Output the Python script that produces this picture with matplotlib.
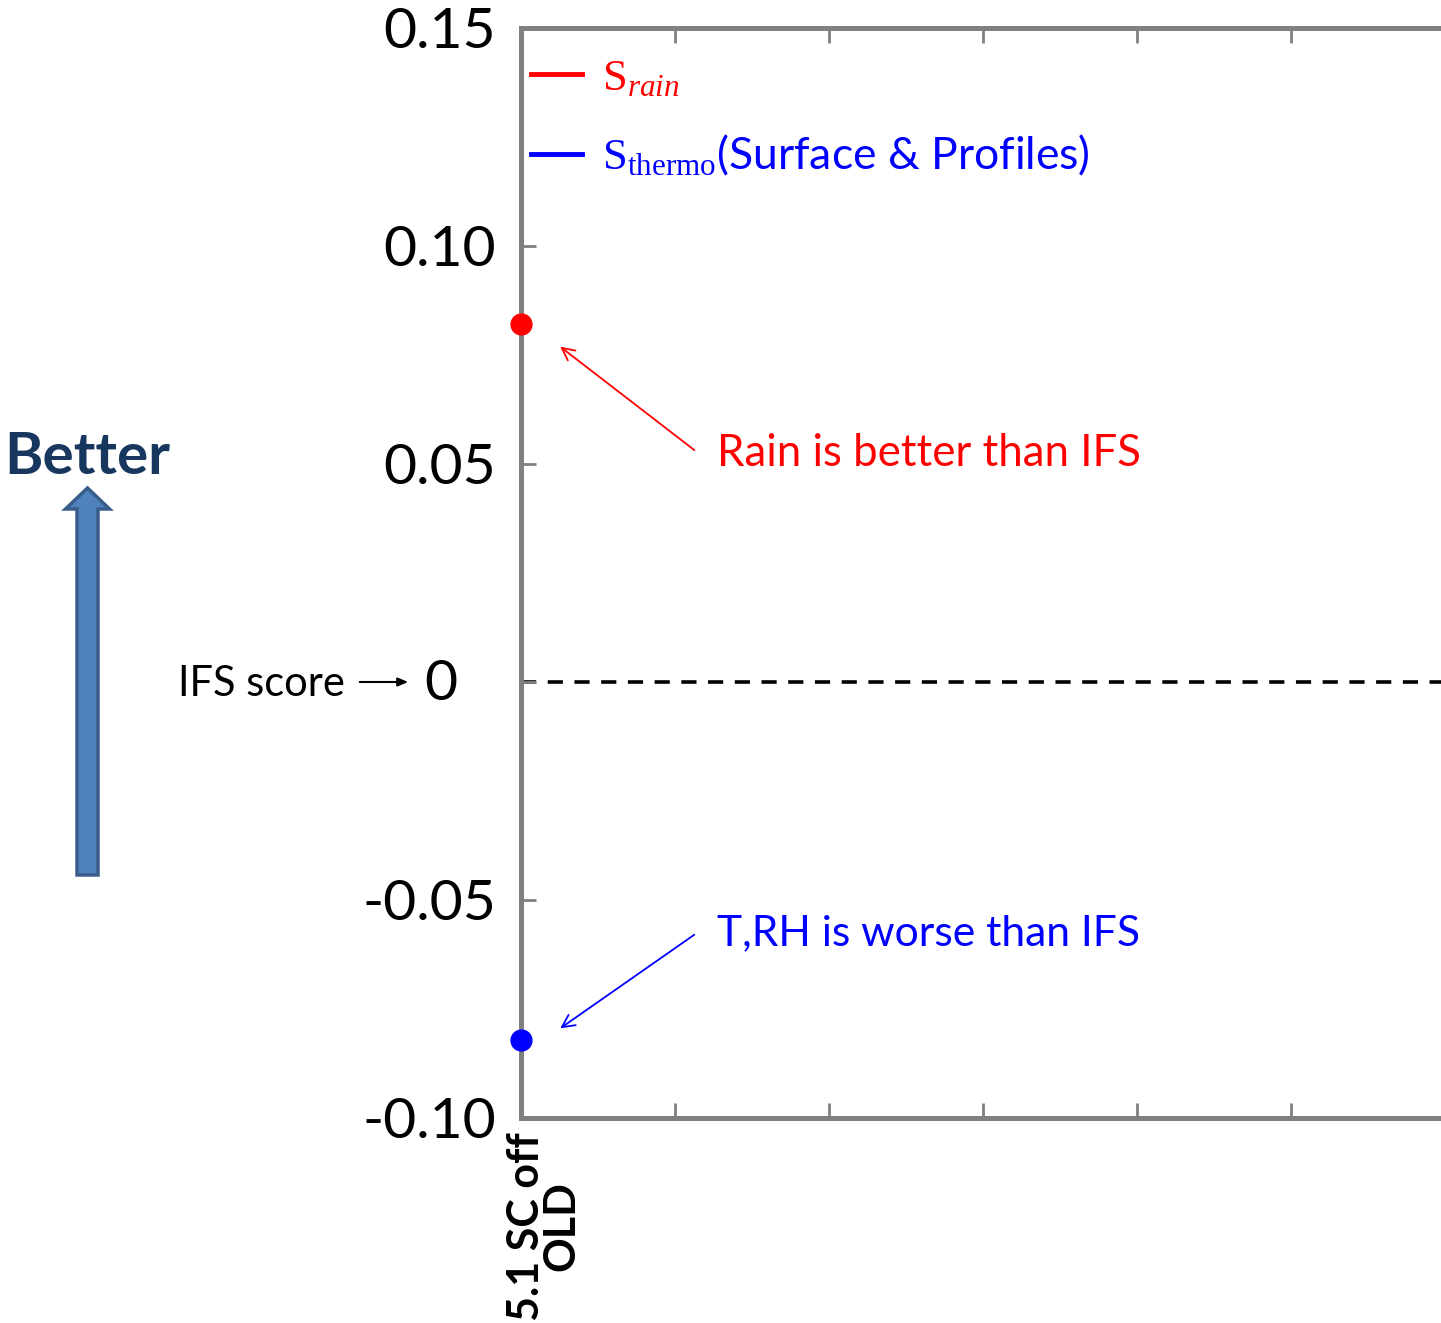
import matplotlib
matplotlib.use("Agg")
import matplotlib.pyplot as plt
from matplotlib.patches import FancyArrow
from matplotlib.lines import Line2D
from matplotlib.transforms import ScaledTranslation

# scores relative to IFS
categories = ["5.1 SC off\nOLD"]
s_rain = [0.082]
s_thermo = [-0.082]
n_slots = 7  # axis keeps room for more experiments

yticks = [-0.10, -0.05, 0.0, 0.05, 0.10, 0.15]
ytick_labels = ["-0.10", "-0.05", "", "0.05", "0.10", "0.15"]

plt.rcParams["font.family"] = ["Lato", "DejaVu Sans"]
plt.rcParams["mathtext.fontset"] = "custom"
plt.rcParams["mathtext.rm"] = "Liberation Serif"
plt.rcParams["mathtext.it"] = "Liberation Serif:italic"

W, H = 1441, 1323
fig = plt.figure(figsize=(W / 100, H / 100), dpi=100)
ax = fig.add_axes([521 / W, (H - 1118) / H, 924 / W, 1090 / H])

xs = list(range(1, len(categories) + 1))
ax.plot(xs, s_rain, "o", color="red", ms=15, clip_on=False, zorder=5,
        label=r"$\mathrm{S}_{\mathit{rain}}$")
ax.plot(xs, s_thermo, "o", color="blue", ms=15, clip_on=False, zorder=5,
        label=r"$\mathrm{S}_{\mathrm{thermo}}$(Surface & Profiles)")

ax.axhline(0, color="black", lw=2.6, ls=(0, (4.2, 3.2)), zorder=1)

for side in ["left", "bottom", "top", "right"]:
    ax.spines[side].set_color("#808080")
    ax.spines[side].set_linewidth(3.6)
ax.tick_params(direction="in", length=11, width=2, color="#808080",
               top=True, right=False, pad=18)
ax.tick_params(axis="x", pad=10)

ax.set_xlim(1, n_slots)
ax.set_ylim(-0.10, 0.15)
ax.set_yticks(yticks)
ax.set_yticklabels(ytick_labels, fontsize=41)
ax.set_xticks(range(1, n_slots + 1))
ax.set_xticklabels(categories + [""] * (n_slots - len(categories)),
                   rotation=90, fontsize=31, fontweight="bold",
                   ha="left", va="top", multialignment="center",
                   linespacing=0.85)
for lab in ax.get_xticklabels():
    lab.set_transform(lab.get_transform() + ScaledTranslation(-0.15, 0, fig.dpi_scale_trans))

# legend with plain line handles
handles = [Line2D([], [], color="red", lw=3.5),
           Line2D([], [], color="blue", lw=3.5)]
leg = ax.legend(handles, [h.get_label() for h in ax.get_lines()[:2]],
                loc="upper left", bbox_to_anchor=(-0.018, 0.998), frameon=False,
                fontsize=32, handlelength=1.15, handletextpad=0.45,
                labelspacing=0.8, borderaxespad=0.2)
for txt, c in zip(leg.get_texts(), ["red", "blue"]):
    txt.set_color(c)

# call-outs
ax.annotate("", xy=(1.24, 0.0773), xytext=(2.14, 0.0528),
            arrowprops=dict(arrowstyle="->,head_length=0.9,head_width=0.45",
                            color="red", lw=1.3))
ax.text(2.27, 0.0525, "Rain is better than IFS", color="red", fontsize=31.5,
        va="center", ha="left")
ax.annotate("", xy=(1.24, -0.0798), xytext=(2.14, -0.0576),
            arrowprops=dict(arrowstyle="->,head_length=0.9,head_width=0.45",
                            color="blue", lw=1.3))
ax.text(2.27, -0.0576, "T,RH is worse than IFS", color="blue", fontsize=30.7,
        va="center", ha="left")

# left-hand side decorations
fig.text(87.5 / W, (H - 457) / H, "Better", color="#17375E", fontsize=42,
         fontweight="bold", ha="center", va="center")
fig.patches.append(FancyArrow(87.5 / W, (H - 875) / H, 0, (875 - 488) / H,
                              width=21 / W, head_width=44 / W,
                              head_length=21 / H, length_includes_head=True,
                              facecolor="#4F81BD", edgecolor="#385D8A", lw=2.5,
                              transform=fig.transFigure, figure=fig))
fig.text(345 / W, (H - 684) / H, "IFS score", fontsize=30, ha="right",
         va="center")
fig.text(424 / W, (H - 684) / H, "0", fontsize=41, ha="left", va="center")
ax.annotate("", xy=(411 / W, (H - 682) / H), xytext=(357 / W, (H - 682) / H),
            xycoords="figure fraction", textcoords="figure fraction",
            arrowprops=dict(arrowstyle="-|>,head_length=0.6,head_width=0.25",
                            color="black", lw=1.5))

fig.savefig("out.png", dpi=100)
